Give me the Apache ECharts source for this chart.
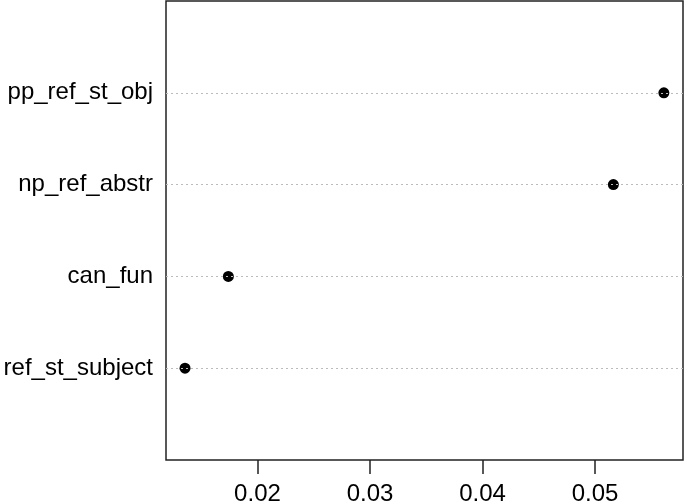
<!DOCTYPE html>
<html>
<head>
<meta charset="utf-8">
<script src="https://cdn.jsdelivr.net/npm/echarts@6/dist/echarts.min.js"></script>
<style>
  html, body { margin: 0; padding: 0; background: #fff; }
  #chart { width: 685px; height: 503px; }
</style>
</head>
<body>
<div id="chart"></div>
<script>
// rows from bottom to top, like R dotchart
const categories = ['ref_st_subject', 'can_fun', 'np_ref_abstr', 'pp_ref_st_obj']
const values = [0.01356, 0.01741, 0.05163, 0.05612]
const xTicks = [0.02, 0.03, 0.04, 0.05]

const xMin = 0.01187
const xMax = 0.05782

const mChart = echarts.init(document.getElementById('chart'))

const option = {
    animation: false,
    grid: {
        left: 166,
        right: 2,
        top: 1,
        bottom: 43,
        show: true,
        borderColor: '#222',
        borderWidth: 1.5,
        containLabel: false,
        outerBoundsMode: 'none'
    },
    xAxis: {
        type: 'value',
        min: xMin,
        max: xMax,
        axisLine: { show: false },
        axisTick: {
            show: true,
            inside: false,
            length: 14,
            customValues: xTicks,
            lineStyle: { color: '#222', width: 1.5 }
        },
        splitLine: { show: false },
        axisLabel: {
            color: '#000',
            fontSize: 24,
            fontFamily: 'Liberation Sans, Arial, sans-serif',
            margin: 22,
            customValues: xTicks,
            formatter: (v) => v.toFixed(2)
        }
    },
    yAxis: {
        type: 'value',
        min: 0,
        max: categories.length + 1,
        interval: 1,
        axisLine: { show: false },
        axisTick: { show: false },
        splitLine: { show: false },
        axisLabel: {
            color: '#000',
            fontSize: 24,
            fontFamily: 'Liberation Sans, Arial, sans-serif',
            margin: 13,
            formatter: (v) => categories[v - 1] || ''
        }
    },
    series: [
        {
            type: 'scatter',
            symbol: 'circle',
            symbolSize: 11,
            itemStyle: { color: '#000', opacity: 1 },
            data: values.map((v, i) => [v, i + 1]),
            markLine: {
                silent: true,
                symbol: 'none',
                label: { show: false },
                lineStyle: { color: '#bbb', width: 1, type: [2, 3] },
                data: categories.map((c, i) => ({ yAxis: i + 1 }))
            },
            z: 3
        }
    ]
}

mChart.setOption(option)
</script>
</body>
</html>
